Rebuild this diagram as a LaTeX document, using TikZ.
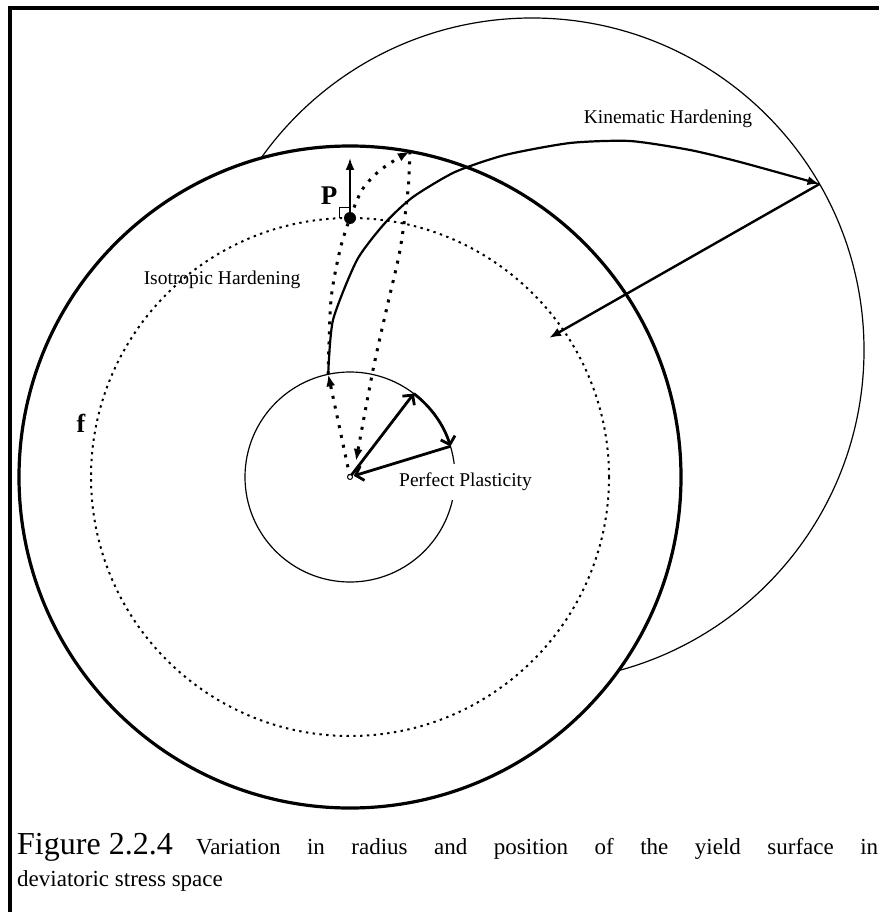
\documentclass[tikz,border=0pt]{standalone}
\usepackage{fontspec}
\setmainfont{Liberation Serif}
\usetikzlibrary{arrows.meta}

\begin{document}
\begin{tikzpicture}[x=1pt,y=-1pt,
  every node/.style={font=\fontsize{19.5}{23}\selectfont,inner sep=1pt},
  thinsurf/.style={line width=1.2pt},
  yieldsurf/.style={line width=3.2pt},
  isodots/.style={line width=2pt,dash pattern=on 2.4pt off 4.4pt},
  pathdots/.style={line width=3pt,dash pattern=on 3pt off 7pt},
  tri/.style={-{Latex[length=12pt,width=9pt]}},
  barb/.style={line width=2.8pt,-{Straight Barb[length=7pt,width=15pt]}}]
\useasboundingbox (0,0) rectangle (879,912);
\draw[line width=3.6pt] (10,912) -- (10,8) -- (879,8);

\coordinate (O) at (350,477);
\coordinate (K) at (532,350);
\coordinate (A) at (413.8,393.6);
\coordinate (B) at (450.4,446.3);
\coordinate (S) at (328.2,374.3);
\coordinate (P) at (350,218);
\coordinate (Pn) at (350,158);
\coordinate (T) at (409.8,151.4);
\coordinate (E) at (356,461);
\coordinate (Q) at (819.5,184);
\coordinate (Kc) at (549,338);

\draw[thinsurf] (K) circle[radius=332];
\draw[yieldsurf,fill=white] (O) circle[radius=331];
\draw[isodots] (O) circle[radius=259];
\draw[thinsurf] (O) circle[radius=105];

\node (kin) at (668,119) {Kinematic Hardening};
\node (iso) at (222,280) {Isotropic Hardening};
\node[anchor=west,fill=white,inner xsep=2pt,inner ysep=9pt] (pp) at (397,482) {Perfect Plasticity};
\node[font=\fontsize{26}{29}\selectfont\bfseries] (f) at (81,423) {f};
\node[font=\fontsize{27}{30}\selectfont\bfseries] (plab) at (329,196) {P};

\draw[pathdots,tri] (O) -- (S);
\draw[pathdots,tri] plot[smooth] coordinates {(S) (331,300) (340,250) (P) (362,190) (378,172) (395,160) (T)};
\draw[pathdots,tri] plot[smooth] coordinates {(T) (408,190) (400,250) (387,307) (373,370) (E)};
\draw[line width=2.2pt,tri] plot[smooth,tension=0.4] coordinates {(S) (333,320) (357,260) (385,223) (413,197) (455,172) (505,155) (570,143) (630,141) (690,150) (740,162) (Q)};
\draw[line width=2.4pt,tri] (Q) -- (Kc);

\draw[barb] (O) -- (A);
\draw[barb] (A) arc[start angle=-52.6,end angle=-17,radius=105];
\draw[barb,shorten >=4pt] (B) -- (O);
\draw[line width=1pt,fill=white] (O) circle[radius=2.5];

\fill (P) circle[radius=6];
\draw[line width=2pt,tri] (P) -- (Pn);
\draw[line width=1pt] (339,218) -- (339,207) -- (350,207);

\node[anchor=west,font=\fontsize{32}{36}\selectfont] (fig) at (16,847) {Figure 2.2.4};
\node[anchor=west,font=\fontsize{23}{27}\selectfont] (cap1) at (195,849)
  {\makebox[682pt][s]{Variation in radius and position of the yield surface in}};
\node[anchor=west,font=\fontsize{23}{27}\selectfont] (cap2) at (16,881) {deviatoric stress space};
\end{tikzpicture}
\end{document}
